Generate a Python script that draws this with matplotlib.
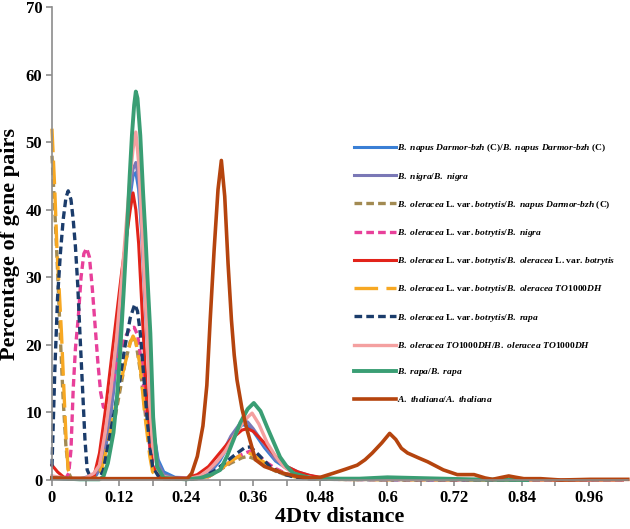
import numpy as np
import matplotlib
matplotlib.use('Agg')
import matplotlib.pyplot as plt

plt.rcParams['font.family'] = ['Liberation Serif', 'DejaVu Serif']
plt.rcParams['font.weight'] = 'bold'
plt.rcParams['mathtext.fontset'] = 'custom'
plt.rcParams['mathtext.it'] = 'Liberation Serif:italic:bold'
plt.rcParams['mathtext.rm'] = 'Liberation Serif:bold'
plt.rcParams['mathtext.bf'] = 'Liberation Serif:bold'
plt.rcParams['lines.scale_dashes'] = False

# 4Dtv distance distributions
x_napus = [0, 0.02, 0.05, 0.08, 0.09, 0.1, 0.11, 0.12, 0.13, 0.14, 0.145, 0.15, 0.155, 0.16, 0.17, 0.18, 0.19, 0.2, 0.22, 0.26, 0.28, 0.3, 0.32, 0.34, 0.35, 0.36, 0.38, 0.4, 0.42, 0.44, 0.46, 0.48, 0.52, 0.6, 0.7, 0.8, 0.86, 0.9, 1.02]
y_napus = [0.4, 0.2, 0.2, 0.8, 2.5, 6.5, 13, 22, 33, 42, 45, 45.5, 43, 37, 21, 8, 3, 1.2, 0.4, 0.3, 0.8, 2.8, 5.8, 8.2, 8.0, 7.2, 4.8, 2.8, 1.7, 1.1, 0.6, 0.3, 0.2, 0.1, 0.05, 0.1, 0.1, 0, 0]

x_nigra = [0, 0.03, 0.06, 0.08, 0.09, 0.1, 0.11, 0.12, 0.13, 0.14, 0.145, 0.15, 0.155, 0.16, 0.17, 0.18, 0.19, 0.2, 0.22, 0.26, 0.28, 0.3, 0.32, 0.34, 0.35, 0.36, 0.38, 0.4, 0.42, 0.44, 0.46, 0.48, 0.5, 0.6, 0.8, 1.02]
y_nigra = [0.3, 0.1, 0.2, 1.0, 3, 7, 13.5, 23, 34, 43, 46, 47, 44.5, 38, 22, 8, 2.5, 0.8, 0.3, 0.2, 0.9, 3.2, 6.5, 8.8, 8.6, 7.6, 5.2, 3.0, 2.0, 1.2, 0.7, 0.3, 0.2, 0.1, 0.05, 0]

x_ole_napus = [0, 0.005, 0.01, 0.015, 0.02, 0.025, 0.03, 0.035, 0.06, 0.08, 0.09, 0.1, 0.11, 0.12, 0.13, 0.14, 0.145, 0.15, 0.16, 0.17, 0.18, 0.19, 0.2, 0.25, 0.28, 0.3, 0.32, 0.34, 0.35, 0.36, 0.38, 0.4, 0.42, 0.44, 0.46, 0.5, 0.6, 1.02]
y_ole_napus = [48, 40, 31, 21, 12, 5, 1, 0.2, 0.1, 0.5, 1.5, 4, 8, 12.5, 17, 20.5, 21, 20.5, 15, 7.5, 2.5, 0.8, 0.3, 0.1, 0.5, 1.5, 2.5, 3.3, 3.5, 3.2, 2.2, 1.3, 0.7, 0.4, 0.2, 0.1, 0.05, 0]

x_ole_nigra = [0, 0.025, 0.03, 0.034, 0.038, 0.042, 0.047, 0.052, 0.057, 0.062, 0.067, 0.072, 0.077, 0.082, 0.087, 0.092, 0.097, 0.102, 0.11, 0.12, 0.13, 0.14, 0.147, 0.153, 0.16, 0.165, 0.17, 0.175, 0.18, 0.19, 0.2, 0.25, 0.28, 0.3, 0.32, 0.34, 0.355, 0.37, 0.38, 0.4, 0.42, 0.44, 0.46, 0.5, 0.6, 1.02]
y_ole_nigra = [0.3, 0.3, 1.0, 4.5, 13.5, 19.5, 24, 30, 33.5, 34.3, 33, 28.5, 23, 17.5, 13, 10.8, 10.6, 12, 15, 18.5, 21, 22.5, 22.6, 21.5, 17.5, 13, 9, 5, 2.5, 0.8, 0.3, 0.1, 0.5, 1.5, 2.8, 3.8, 4.3, 3.6, 2.8, 1.7, 0.9, 0.5, 0.2, 0.1, 0.05, 0]

x_ole_ole = [0, 0.01, 0.02, 0.03, 0.06, 0.075, 0.085, 0.095, 0.105, 0.115, 0.125, 0.135, 0.14, 0.145, 0.15, 0.155, 0.16, 0.165, 0.17, 0.175, 0.18, 0.19, 0.2, 0.24, 0.26, 0.28, 0.3, 0.32, 0.34, 0.35, 0.36, 0.38, 0.4, 0.42, 0.44, 0.46, 0.48, 0.5, 0.6, 1.02]
y_ole_ole = [2.2, 1.2, 0.5, 0.1, 0.1, 0.5, 4, 10, 17, 24, 31, 37, 40, 42.5, 40, 35, 27, 19, 11, 5.5, 2, 0.8, 0.3, 0.3, 0.8, 2, 4, 6, 7.4, 7.6, 7.2, 5.5, 3.5, 2.0, 1.2, 0.7, 0.4, 0.2, 0.1, 0]

x_ole_to = [0, 0.005, 0.009, 0.013, 0.017, 0.021, 0.025, 0.029, 0.035, 0.06, 0.08, 0.09, 0.1, 0.11, 0.12, 0.13, 0.14, 0.145, 0.15, 0.158, 0.165, 0.17, 0.175, 0.18, 0.19, 0.2, 0.25, 0.28, 0.3, 0.32, 0.34, 0.35, 0.36, 0.38, 0.4, 0.42, 0.44, 0.46, 0.5, 0.6, 1.02]
y_ole_to = [52, 43, 34, 28, 21.7, 14, 6.5, 1.5, 0.2, 0.1, 0.3, 2, 5.5, 9.5, 13.5, 17, 20.3, 21.3, 20.5, 16.7, 10.5, 7, 3.5, 1.2, 0.4, 0.2, 0.1, 0.5, 1.5, 2.8, 3.8, 4.1, 3.7, 2.6, 1.5, 0.8, 0.4, 0.2, 0.1, 0.05, 0]

x_ole_rapa = [0, 0.005, 0.01, 0.015, 0.02, 0.025, 0.029, 0.034, 0.038, 0.042, 0.046, 0.05, 0.055, 0.059, 0.063, 0.07, 0.085, 0.092, 0.1, 0.11, 0.12, 0.13, 0.14, 0.148, 0.153, 0.158, 0.164, 0.17, 0.175, 0.18, 0.19, 0.2, 0.25, 0.27, 0.29, 0.31, 0.33, 0.345, 0.355, 0.37, 0.39, 0.41, 0.43, 0.46, 0.5, 0.6, 1.02]
y_ole_rapa = [2.0, 16, 27, 33.5, 38.5, 41.8, 42.8, 41.5, 38.5, 34.5, 29, 21.7, 13, 6, 1.5, 0.2, 0.2, 1.5, 5, 9.5, 14, 19.5, 24, 26, 25, 21.7, 15.5, 9.3, 5, 2, 0.6, 0.2, 0.1, 0.5, 1.3, 2.6, 3.9, 4.8, 4.9, 3.7, 2.0, 1.0, 0.5, 0.2, 0.1, 0.05, 0]

x_to_to = [0, 0.03, 0.06, 0.075, 0.085, 0.095, 0.105, 0.115, 0.125, 0.135, 0.14, 0.145, 0.15, 0.155, 0.16, 0.165, 0.17, 0.175, 0.18, 0.19, 0.2, 0.22, 0.25, 0.265, 0.28, 0.295, 0.31, 0.325, 0.34, 0.35, 0.358, 0.37, 0.385, 0.4, 0.414, 0.43, 0.444, 0.47, 0.5, 0.6, 1.02]
y_to_to = [0.6, 0.2, 0.3, 1.0, 2.2, 7, 13, 20.5, 30, 40, 45, 49, 51.5, 47, 39, 30, 21.7, 12, 5, 1.5, 0.5, 0.2, 0.3, 0.6, 1.5, 2.7, 4.3, 6.4, 8.3, 9.3, 9.9, 8.3, 5.5, 3.5, 2, 1.1, 0.6, 0.3, 0.15, 0.1, 0]

x_rapa = [0, 0.05, 0.085, 0.092, 0.1, 0.11, 0.116, 0.122, 0.128, 0.134, 0.139, 0.143, 0.147, 0.15, 0.153, 0.158, 0.163, 0.167, 0.172, 0.176, 0.181, 0.188, 0.2, 0.24, 0.265, 0.285, 0.301, 0.313, 0.325, 0.337, 0.35, 0.361, 0.373, 0.385, 0.397, 0.408, 0.42, 0.432, 0.462, 0.5, 0.55, 0.6, 0.65, 0.7, 0.75, 0.8, 0.85]
y_rapa = [0.3, 0.1, 0.1, 0.5, 2.5, 7, 12, 19, 27.5, 36.5, 45, 51, 55.5, 57.5, 56.5, 51, 42.5, 36.5, 28, 21.7, 9.3, 2, 0.3, 0.1, 0.3, 0.8, 1.5, 3.5, 6, 8.5, 10.5, 11.4, 10.2, 7.8, 5.5, 3.4, 2, 1, 0.3, 0.2, 0.2, 0.4, 0.3, 0.2, 0.1, 0.05, 0]

x_thal = [0, 0.1, 0.2, 0.242, 0.25, 0.26, 0.27, 0.277, 0.283, 0.29, 0.297, 0.303, 0.309, 0.315, 0.321, 0.326, 0.331, 0.34, 0.349, 0.364, 0.38, 0.414, 0.44, 0.462, 0.48, 0.503, 0.525, 0.546, 0.56, 0.573, 0.59, 0.604, 0.615, 0.625, 0.636, 0.655, 0.672, 0.7, 0.725, 0.74, 0.755, 0.775, 0.788, 0.805, 0.817, 0.83, 0.844, 0.874, 0.91, 0.963, 1.03]
y_thal = [0.3, 0.2, 0.2, 0.2, 1, 3.5, 8, 14, 23.7, 34, 43, 47.3, 42, 32, 23.7, 18.5, 14.8, 10.5, 7.4, 3, 2, 1.0, 0.5, 0.3, 0.4, 1.0, 1.6, 2.2, 3, 4.0, 5.5, 6.9, 6.0, 4.7, 4.0, 3.3, 2.7, 1.5, 0.8, 0.8, 0.8, 0.3, 0.1, 0.4, 0.6, 0.4, 0.2, 0.2, 0.0, 0.1, 0.1]


def it(s):
    return r'$\mathit{' + s.replace(' ', r'\ ') + '}$'


labels = [
    it('B. napus Darmor') + '-' + it('bzh') + ' (C)/' + it('B. napus Darmor') + '-' + it('bzh') + ' (C)',
    it('B. nigra/B. nigra'),
    it('B. oleracea') + ' L. var. ' + it('botrytis/B. napus Darmor') + '-' + it('bzh') + ' (C)',
    it('B. oleracea') + ' L. var. ' + it('botrytis/B. nigra'),
    it('B. oleracea') + ' L. var. ' + it('botrytis/B. oleracea') + ' L. var. ' + it('botrytis'),
    it('B. oleracea') + ' L. var. ' + it('botrytis/B. oleracea TO1000DH'),
    it('B. oleracea') + ' L. var. ' + it('botrytis/B. rapa'),
    it('B. oleracea TO1000DH/B. oleracea TO1000DH'),
    it('B. rapa/B. rapa'),
    it('A. thaliana/A. thaliana'),
]

xs = [x_napus, x_nigra, x_ole_napus, x_ole_nigra, x_ole_ole, x_ole_to, x_ole_rapa, x_to_to, x_rapa, x_thal]
ys = [y_napus, y_nigra, y_ole_napus, y_ole_nigra, y_ole_ole, y_ole_to, y_ole_rapa, y_to_to, y_rapa, y_thal]
colors = ['#3a7fd5', '#7a78b6', '#a28a52', '#e8409a', '#e2231a', '#f7a823', '#1b3c6b', '#f4a0a0', '#3a9e74', '#b5440e']
dashes = [None, None, (5.5, 3), (5.5, 3), None, (17, 6), (5.5, 3), None, None, None]
widths = [2.2, 2.2, 2.4, 2.4, 2.2, 2.4, 2.4, 2.4, 2.8, 2.6]

fig = plt.figure(figsize=(6.3, 5.29), dpi=100)
ax = fig.add_axes([0.0825, 0.0926, 0.914, 0.894])

for x, y, c, d, w, lab in zip(xs, ys, colors, dashes, widths, labels):
    line, = ax.plot(x, y, color=c, lw=w, label=lab, clip_on=False,
                    solid_joinstyle='round', dash_joinstyle='round')
    if d is not None:
        line.set_dashes(d)

ax.set_xlim(0, 1.03)
ax.set_ylim(0, 70)
ax.set_xticks([0, 0.12, 0.24, 0.36, 0.48, 0.6, 0.72, 0.84, 0.96])
ax.set_xticklabels(['0', '0.12', '0.24', '0.36', '0.48', '0.6', '0.72', '0.84', '0.96'])
ax.set_xticks(np.arange(0.06, 1.0, 0.12), minor=True)
ax.set_yticks(range(0, 71, 10))

for s in ['top', 'right']:
    ax.spines[s].set_visible(False)
for s in ['left', 'bottom']:
    ax.spines[s].set_color('#8c8c8c')
    ax.spines[s].set_linewidth(1.2)
ax.tick_params(axis='both', which='both', color='#8c8c8c', width=1.2, length=4, labelsize=12, pad=3)

ax.set_xlabel('4Dtv distance', fontsize=16, fontweight='bold', labelpad=1)
ax.set_ylabel('Percentage of gene pairs', fontsize=16, fontweight='bold', labelpad=4)

ax.legend(loc='upper left', bbox_to_anchor=(0.555, 0.74), bbox_transform=fig.transFigure,
          frameon=False, fontsize=6.8, handlelength=4.4, handletextpad=0.1,
          labelspacing=1.72, borderpad=0)

plt.savefig('out.png', dpi=100)
